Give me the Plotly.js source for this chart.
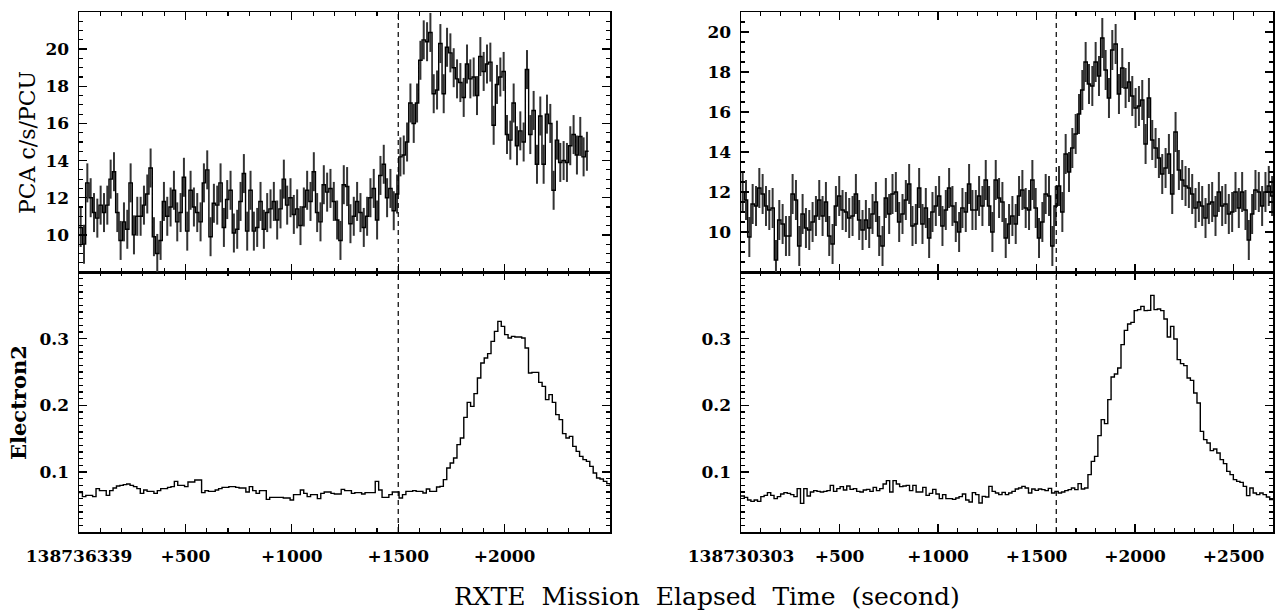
<!DOCTYPE html>
<html><head><meta charset="utf-8">
<script src="https://cdn.plot.ly/plotly-3.0.1.min.js"></script>
<style>html,body{margin:0;padding:0;background:#fff}#c{width:1280px;height:612px}</style>
</head><body><div id="c"></div><script>
// ---------- data ----------
// Left event: start MET 138736339, PCA bin ~15.65 s
const pcaLeftBin = 15.65;
const pcaLeft = [
10.4, 9.5, 12.8, 12.0, 11.2, 10.9, 11.6, 11.2, 11.6, 13.0,
13.4, 11.2, 9.7, 10.7, 10.3, 12.8, 10.0, 11.0, 11.0, 11.6,
12.2, 13.6, 9.9, 9.0, 9.7, 11.8, 11.0, 11.5, 12.4, 10.7,
11.2, 13.1, 10.2, 12.4, 11.5, 11.2, 10.7, 12.8, 13.5, 9.9,
11.7, 11.6, 12.8, 10.4, 11.9, 12.4, 10.1, 10.3, 11.8, 13.3,
10.2, 12.4, 10.2, 10.4, 11.8, 10.3, 11.2, 11.4, 11.8, 10.8,
11.4, 13.0, 11.6, 12.0, 11.1, 11.4, 10.5, 11.5, 12.4, 11.8,
13.4, 11.2, 10.7, 12.7, 12.3, 12.5, 11.8, 10.8, 9.7, 12.7,
12.6, 10.6, 11.0, 11.8, 11.2, 10.4, 11.0, 12.0, 12.5, 10.8,
13.2, 13.8, 12.0, 12.5, 11.3, 12.2,
14.2, 14.3, 15.0, 17.1, 16.0, 17.1, 19.4, 20.5, 20.4, 20.9,
17.6, 17.8, 20.3, 17.6, 20.1, 19.8, 19.0, 18.4, 18.2, 17.4,
19.2, 18.4, 18.5, 17.5, 19.6, 18.8, 19.2, 19.3, 15.9, 18.1,
18.5, 18.8, 15.4, 15.1, 17.1, 14.8, 15.6, 15.0, 18.9, 15.4,
16.7, 13.8, 16.4, 13.8, 16.5, 16.0, 12.4, 15.1, 13.9, 14.0,
13.9, 14.8, 15.4, 14.3, 15.3, 14.2, 14.5
];
const pcaLeftErr = 1.05;
const elecLeftBin = 16;
const elecLeft = [
.069, .063, .065, .065, .063, .075, .072, .072, .065, .072,
.076, .079, .080, .081, .082, .080, .078, .075, .068, .073,
.071, .071, .068, .072, .075, .075, .077, .078, .086, .080,
.080, .078, .085, .085, .088, .088, .069, .072, .071, .071,
.073, .075, .077, .077, .078, .078, .077, .076, .076, .070,
.078, .072, .068, .072, .072, .059, .062, .062, .062, .062,
.061, .061, .058, .066, .066, .073, .068, .063, .066, .066,
.060, .068, .070, .070, .068, .067, .067, .074, .072, .072,
.068, .069, .069, .067, .069, .069, .069, .086, .073, .062,
.062, .066, .070, .070, .061,
.066, .071, .071, .072, .071, .071, .0685, .0745, .071, .071,
.0775, .0785, .0885, .106, .1135, .121, .141, .151, .182, .2045,
.1985, .2175, .241, .2635, .271, .2775, .296, .311, .326, .3185,
.306, .301, .3035, .3025, .3025, .301, .286, .2485, .2495, .2495,
.2345, .2285, .2085, .216, .2045, .186, .1785, .1575, .151, .1535,
.1385, .131, .1235, .1185, .116, .1085, .0985, .091, .0895, .086,
.0825, .0795, .078
];
const leftTickVals = [0, 500, 1000, 1500, 2000];
const leftTickText = ['138736339', '+500', '+1000', '+1500', '+2000'];
const leftRange = [0, 2495];
const leftMark = 1500;

// Right event: start MET 138730303
const pcaRightBin = 16.9;
const pcaRight = [
12.0, 11.6, 9.75, 11.4, 11.3, 12.2, 11.9, 11.3, 11.1, 11.2,
8.6, 10.6, 10.4, 9.8, 9.8, 11.9, 11.6, 9.3, 10.9, 10.2,
10.1, 10.5, 10.8, 11.6, 10.8, 11.5, 9.8, 9.4, 11.3, 11.8,
11.1, 11.0, 10.7, 10.8, 11.9, 10.6, 10.1, 10.6, 10.2, 10.9,
11.5, 9.8, 9.3, 11.7, 10.9, 11.9, 12.0, 10.5, 10.9, 11.6,
12.4, 10.3, 10.4, 12.2, 10.4, 11.2, 9.7, 11.0, 11.3, 11.8,
10.3, 11.1, 12.2, 11.3, 10.5, 10.0, 11.2, 11.0, 12.4, 11.1,
11.1, 11.8,
11.3, 12.6, 11.3, 10.0, 12.6, 11.7, 11.5, 9.7, 10.4, 10.8,
10.4, 11.8, 12.1, 11.2, 11.1, 12.6, 11.2, 9.7, 10.5, 11.9,
11.8, 9.3, 11.3, 12.3, 11.0, 13.9, 13.0, 14.2, 14.9, 15.9,
17.1, 18.5, 17.4, 17.3, 18.5, 17.8, 19.7, 18.1, 16.7, 19.1,
19.4, 16.9, 18.2, 17.2, 17.5, 16.8, 16.2, 16.3, 16.6, 14.4,
16.7, 14.6, 14.2, 13.7, 12.9, 13.2, 13.9, 11.9, 15.0, 13.1,
12.6, 12.3, 12.2, 11.9, 11.2, 11.5, 11.3, 10.7, 11.4, 11.5,
10.8, 12.0, 11.3, 11.4, 10.9, 11.0, 12.0, 11.2, 12.0, 11.1,
9.6, 10.9, 12.1, 12.0, 11.3, 12.0, 12.3, 11.8
];
const pcaRightErr = 1.0;
const elecRightBin = 16.77;
const elecRight = [
.064, .062, .058, .056, .058, .056, .063, .065, .069, .065,
.060, .063, .067, .069, .068, .066, .063, .075, .053, .075,
.064, .070, .072, .071, .070, .071, .072, .080, .071, .075,
.078, .073, .079, .074, .075, .071, .070, .073, .074, .071,
.077, .072, .075, .082, .087, .070, .087, .082, .078, .079,
.080, .072, .080, .070, .070, .077, .065, .068, .074, .067,
.060, .066, .060, .060, .059, .061, .063, .067, .058, .055,
.069,
.066, .0535, .0635, .0625, .0785, .071,
.0685, .066, .0695, .066, .0685, .071, .0745, .076, .0785, .076,
.0685, .0745, .0725, .0745, .0735, .072, .0755, .0685, .071, .0685,
.070, .072, .0735, .076, .0735, .0825, .0745, .076,
.096, .116, .1235, .1545, .1785, .1725, .2085, .2425, .247, .256,
.291, .3125, .322, .3245, .342, .3435, .3485, .342, .3425, .365,
.3435, .3445, .342, .3295, .3025, .3185, .2995, .2685, .2625, .2595,
.241, .2375, .2185, .2035, .161, .1485, .1435, .132, .1345, .1285,
.1185, .1125, .101, .096, .0885, .086, .0845, .0785, .0645, .076,
.0685, .066, .0685, .066, .0625, .0585
];
const rightTickVals = [0, 500, 1000, 1500, 2000, 2500];
const rightTickText = ['138730303', '+500', '+1000', '+1500', '+2000', '+2500'];
const rightRange = [0, 2700];
const rightMark = 1600;

const pcaTickVals = [10, 12, 14, 16, 18, 20];
const elecTickVals = [0.1, 0.2, 0.3];
const pcaLeftRange = [8, 22];
const pcaRightRange = [8, 21];
const elecRange = [0.01, 0.4];

// ---------- helpers ----------
function stepTrace(vals, bin, xa, ya) {
  const x = [], y = [];
  vals.forEach((v, i) => { x.push(i * bin); y.push(v); });
  x.push(vals.length * bin); y.push(vals[vals.length - 1]);
  return {x, y, xaxis: xa, yaxis: ya, mode: 'lines', line: {shape: 'hv', color: '#000', width: 1.4},
          hoverinfo: 'skip', showlegend: false, cliponaxis: true};
}
function errTrace(vals, bin, err, xa, ya) {
  return {x: vals.map((v, i) => (i + 0.5) * bin), y: vals, xaxis: xa, yaxis: ya, mode: 'markers',
          marker: {size: 0.1, color: 'rgba(0,0,0,0)'},
          error_y: {type: 'constant', value: err, color: '#333333', thickness: 2, width: 0},
          hoverinfo: 'skip', showlegend: false};
}

const tickFont = {family: 'DejaVu Serif', size: 17, color: '#000', weight: 'bold'};
function xAx(domain, range, tv, tt, labels, anchor) {
  return {domain, range, anchor, tickmode: 'array', tickvals: tv, ticktext: tt,
    showticklabels: labels, ticks: 'inside', ticklen: 8, tickwidth: 1.3, tickcolor: '#000',
    minor: {tickmode: 'linear', tick0: 0, dtick: 100, ticks: 'inside', ticklen: 4, tickwidth: 1.1, tickcolor: '#000'},
    showline: true, linecolor: '#000', linewidth: 1.5, mirror: 'allticks', showgrid: false, zeroline: false,
    tickfont: tickFont, ticklabelstandoff: 8};
}
function yAx(domain, range, tv, mdt, m0, anchor) {
  return {domain, range, anchor, tickmode: 'array', tickvals: tv, ticktext: tv.map(String),
    ticks: 'inside', ticklen: 8, tickwidth: 1.3, tickcolor: '#000',
    minor: {tickmode: 'linear', tick0: m0, dtick: mdt, ticks: 'inside', ticklen: 4, tickwidth: 1.1, tickcolor: '#000'},
    showline: true, linecolor: '#000', linewidth: 1.5, mirror: 'allticks', showgrid: false, zeroline: false,
    tickfont: tickFont, ticklabelstandoff: 5};
}

const dxL = [79 / 1280, 610 / 1280], dxR = [741 / 1280, 1273 / 1280];
const dyTop = [340 / 612, 600 / 612], dyBot = [80 / 612, 340 / 612];

const data = [
  errTrace(pcaLeft, pcaLeftBin, pcaLeftErr, 'x3', 'y3'), stepTrace(pcaLeft, pcaLeftBin, 'x3', 'y3'),
  stepTrace(elecLeft, elecLeftBin, 'x', 'y'),
  errTrace(pcaRight, pcaRightBin, pcaRightErr, 'x4', 'y4'), stepTrace(pcaRight, pcaRightBin, 'x4', 'y4'),
  stepTrace(elecRight, elecRightBin, 'x2', 'y2')
];

const layout = {
  width: 1280, height: 612, margin: {l: 0, r: 0, t: 0, b: 0},
  paper_bgcolor: '#fff', plot_bgcolor: '#fff', showlegend: false,
  xaxis: xAx(dxL, leftRange, leftTickVals, leftTickText, true, 'y'),
  yaxis: yAx(dyBot, elecRange, elecTickVals, 0.01, 0, 'x'),
  xaxis2: xAx(dxR, rightRange, rightTickVals, rightTickText, true, 'y2'),
  yaxis2: yAx(dyBot, elecRange, elecTickVals, 0.01, 0, 'x2'),
  xaxis3: xAx(dxL, leftRange, leftTickVals, leftTickText, false, 'y3'),
  yaxis3: yAx(dyTop, pcaLeftRange, pcaTickVals, 0.5, 0, 'x3'),
  xaxis4: xAx(dxR, rightRange, rightTickVals, rightTickText, false, 'y4'),
  yaxis4: yAx(dyTop, pcaRightRange, pcaTickVals, 0.5, 0, 'x4'),
  shapes: [
    {type: 'line', xref: 'x', yref: 'paper', x0: leftMark, x1: leftMark, y0: dyBot[0], y1: dyTop[1],
     line: {color: '#000', width: 1.2, dash: '5px,4px'}},
    {type: 'line', xref: 'x2', yref: 'paper', x0: rightMark, x1: rightMark, y0: dyBot[0], y1: dyTop[1],
     line: {color: '#000', width: 1.2, dash: '5px,4px'}}
  ],
  annotations: [
    {text: 'PCA c/s/PCU', xref: 'paper', yref: 'paper', x: 27 / 1280, y: 1 - 143 / 612, textangle: -90,
     showarrow: false, xanchor: 'center', yanchor: 'middle', font: {family: 'DejaVu Serif', size: 22, color: '#000'}},
    {text: 'Electron2', xref: 'paper', yref: 'paper', x: 18 / 1280, y: 1 - 403 / 612, textangle: -90,
     showarrow: false, xanchor: 'center', yanchor: 'middle', font: {family: 'DejaVu Serif', size: 21, color: '#000', weight: 'bold'}},
    {text: 'RXTE  Mission  Elapsed  Time  (second)', xref: 'paper', yref: 'paper', x: 707 / 1280, y: 1 - 596 / 612,
     showarrow: false, xanchor: 'center', yanchor: 'middle', font: {family: 'DejaVu Serif', size: 25, color: '#000'}}
  ]
};

Plotly.newPlot('c', data, layout, {staticPlot: true, displayModeBar: false});
</script></body></html>
